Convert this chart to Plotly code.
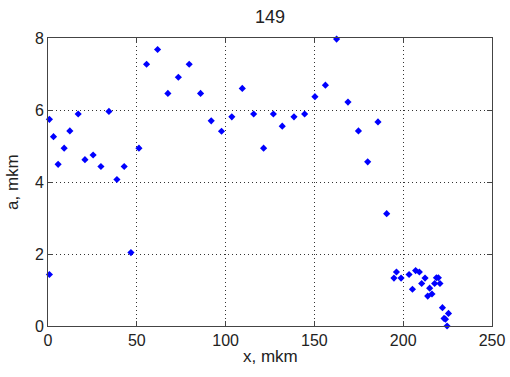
import plotly.graph_objects as go

x_vals = [0.8, 3.1, 5.7, 9.1, 12.3, 17.0, 20.8, 25.4, 29.8, 34.3, 38.8, 42.9,
          51.2, 55.5, 61.7, 67.5, 73.4, 79.5, 85.9, 91.9, 97.7, 103.5, 109.4,
          115.8, 121.4, 126.9, 131.9, 138.5, 144.5, 150.3, 156.2, 162.5, 168.9,
          174.8, 185.8, 180.0, 0.8, 46.7, 190.7,
          196.2, 194.8, 198.8, 203.3, 207.0, 209.1, 205.2, 210.4, 212.3, 214.9,
          213.8, 216.2, 217.7, 218.7, 219.8, 220.7, 222.1, 225.5, 223.0, 223.8, 224.7]
y_vals = [5.74, 5.26, 4.49, 4.94, 5.42, 5.89, 4.62, 4.75, 4.43, 5.96, 4.07, 4.43,
          4.94, 7.27, 7.68, 6.46, 6.91, 7.27, 6.46, 5.70, 5.41, 5.81, 6.60,
          5.89, 4.94, 5.89, 5.55, 5.81, 5.89, 6.37, 6.69, 7.97, 6.22,
          5.42, 5.67, 4.56, 1.43, 2.04, 3.12,
          1.50, 1.33, 1.33, 1.43, 1.54, 1.50, 1.02, 1.18, 1.33, 1.05,
          0.83, 0.89, 1.18, 1.34, 1.34, 1.18, 0.51, 0.35, 0.21, 0.19, 0.0]

title_text = "149"
x_label = "x, mkm"
y_label = "a, mkm"

FONT = "Liberation Sans, Arial"
TXT = "#222222"

fig = go.Figure(go.Scatter(
    x=x_vals, y=y_vals, mode="markers",
    marker=dict(symbol="diamond", size=5.5, color="#0000ff", line=dict(width=0)),
    cliponaxis=False,
))

axis_common = dict(
    showline=True, linecolor="#444444", linewidth=1, mirror="ticks",
    ticks="inside", ticklen=5, tickcolor="#444444",
    showgrid=True, gridcolor="#333333", griddash="1px,3px", gridwidth=1,
    zeroline=False, automargin=False,
    tickfont=dict(family=FONT, size=16, color=TXT),
)

fig.update_layout(
    width=510, height=377,
    margin=dict(l=48, r=18, t=38, b=51),
    paper_bgcolor="white", plot_bgcolor="white",
    showlegend=False,
    xaxis=dict(range=[0, 250], tickvals=[0, 50, 100, 150, 200, 250], **axis_common),
    yaxis=dict(range=[0, 8], tickvals=[0, 2, 4, 6, 8], **axis_common),
    annotations=[
        dict(text=title_text, xref="paper", yref="paper", x=0.5, y=1.0, yshift=21,
             xanchor="center", yanchor="middle", showarrow=False,
             font=dict(family=FONT, size=18, color=TXT)),
        dict(text=x_label, xref="paper", yref="paper", x=0.5, y=0, yshift=-30,
             xanchor="center", yanchor="middle", showarrow=False,
             font=dict(family=FONT, size=17, color=TXT)),
        dict(text=y_label, xref="paper", yref="paper", x=0, y=0.5, xshift=-36,
             xanchor="center", yanchor="middle", showarrow=False, textangle=-90,
             font=dict(family=FONT, size=17, color=TXT)),
    ],
)

fig.write_html("out.html", config={"displayModeBar": False},
               post_script="document.body.style.margin='0px';document.body.style.padding='0px';")
